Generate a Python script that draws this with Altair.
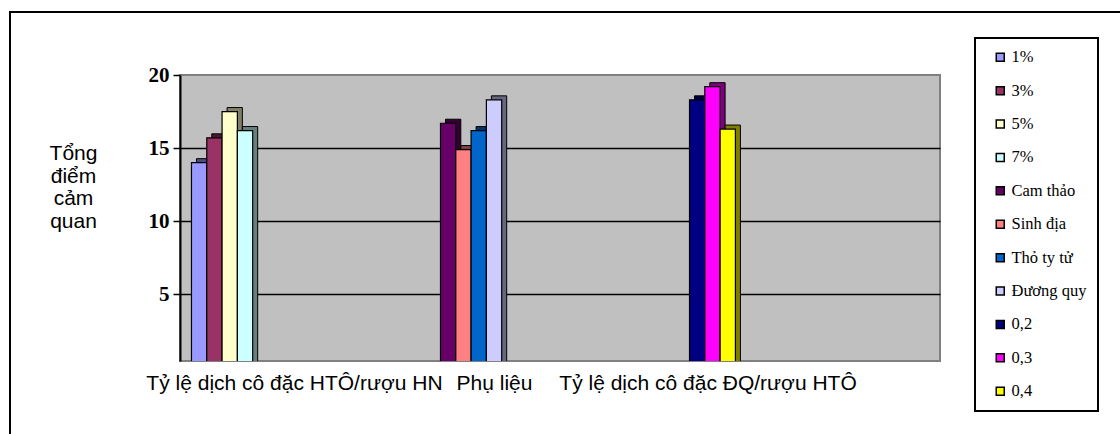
import altair as alt
import pandas as pd

categories = ["Tỷ lệ dịch cô đặc HTÔ/rượu HN", "Phụ liệu", "Tỷ lệ dịch cô đặc ĐQ/rượu HTÔ"]
series = ["1%", "3%", "5%", "7%", "Cam thảo", "Sinh địa", "Thỏ ty tử", "Đương quy", "0,2", "0,3", "0,4"]
series_group = [0, 0, 0, 0, 1, 1, 1, 1, 2, 2, 2]
values = [14.0, 15.7, 17.5, 16.2, 16.7, 14.9, 16.2, 18.3, 18.3, 19.2, 16.3]
colors = ["#9999FF", "#993366", "#FFFFCC", "#CCFFFF", "#660066", "#FF8080",
          "#0066CC", "#CCCCFF", "#000080", "#FF00FF", "#FFFF00"]
y_ticks = [5, 10, 15, 20]
y_title = ["Tổng", "điểm", "cảm", "quan"]


def darker(hex_color, f=0.5):
    r, g, b = (int(hex_color[i:i + 2], 16) for i in (1, 3, 5))
    return "#%02x%02x%02x" % (int(r * f), int(g * f), int(b * f))


dark_colors = [darker(c) for c in colors]

rows = []
counts = {}
for s, g, v in zip(series, series_group, values):
    slot = counts.get(g, 0)
    counts[g] = slot + 1
    rows.append({"series": s, "category": categories[g], "value": v, "slot": slot})
df = pd.DataFrame(rows)

x_axis = alt.Axis(
    title=None, ticks=False, domain=False, labelAngle=0, labelLimit=0,
    labelOverlap=False, labelFont="Liberation Sans", labelFontSize=21,
    labelColor="black", labelPadding=11, labelBaseline="top",
    labelOffset=alt.ExprRef("datum.index < 0.25 ? -16.5 : (datum.index < 0.75 ? -65.5 : -101)"),
)
x_enc = alt.X("category:N", sort=categories,
              scale=alt.Scale(domain=categories, paddingInner=0, paddingOuter=0.026),
              axis=x_axis)

y_axis = alt.Axis(
    values=y_ticks, title=y_title, titleAngle=0, titleFont="Liberation Sans",
    titleFontSize=21, titleFontWeight="normal", titleColor="black",
    titleAlign="center", titleBaseline="middle", titleX=-107, titleY=78.3,
    titleLineHeight=22.8,
    labelFont="Liberation Serif", labelFontWeight="bold", labelFontSize=21,
    labelColor="black", labelPadding=4,
    tickColor="black", tickSize=7, tickWidth=1.5,
    domainColor="black", domainWidth=2,
    grid=True, gridColor="black", gridWidth=1.5,
    gridOpacity={"condition": {"test": "datum.value >= 20", "value": 0}, "value": 1},
)
y_enc = alt.Y("value:Q", scale=alt.Scale(domain=[0.43, 20], nice=False, zero=False),
              axis=y_axis)

slots = list(range(16))

back = alt.Chart(df).mark_bar(
    stroke="black", strokeWidth=1, yOffset=-4, y2Offset=-4, clip=True
).encode(
    x=x_enc,
    xOffset=alt.XOffset("slot:O", scale=alt.Scale(domain=slots, range=[10, 254.8])),
    y=y_enc,
    color=alt.Color("series:N", scale=alt.Scale(domain=series, range=dark_colors), legend=None),
)

front = alt.Chart(df).mark_bar(
    stroke="black", strokeWidth=1.2, clip=True
).encode(
    x=x_enc,
    xOffset=alt.XOffset("slot:O", scale=alt.Scale(domain=slots, range=[5, 249.8])),
    y=y_enc,
    color=alt.Color(
        "series:N", scale=alt.Scale(domain=series, range=colors),
        legend=alt.Legend(
            title=None, orient="none", legendX=795, legendY=-37,
            symbolType="square", symbolSize=64, symbolStrokeColor="black",
            symbolStrokeWidth=1.5, symbolOffset=6, labelOffset=3,
            labelFont="Liberation Serif", labelFontSize=16.5, labelColor="black",
            rowPadding=16.4, padding=11, strokeColor="black", fillColor="white",
        ),
    ),
)

frame = alt.Chart(alt.Data(values=[{}])).mark_rect(
    fillOpacity=0, stroke="black", strokeWidth=2
).encode(
    x=alt.value(-170), x2=alt.value(980), y=alt.value(-63), y2=alt.value(400)
)

chart = alt.layer(frame, back, front).resolve_scale(
    color="independent", xOffset="independent"
).properties(
    width=760, height=286,
    autosize=alt.AutoSizeParams(type="none"),
    padding={"left": 180, "top": 75, "right": 180, "bottom": 73},
    background="white",
).configure_view(
    fill="#C0C0C0", stroke="#808080", strokeWidth=2
).configure_legend(
    strokeWidth=2
)

chart.save("out.html", embed_options={"renderer": "svg", "actions": False})
